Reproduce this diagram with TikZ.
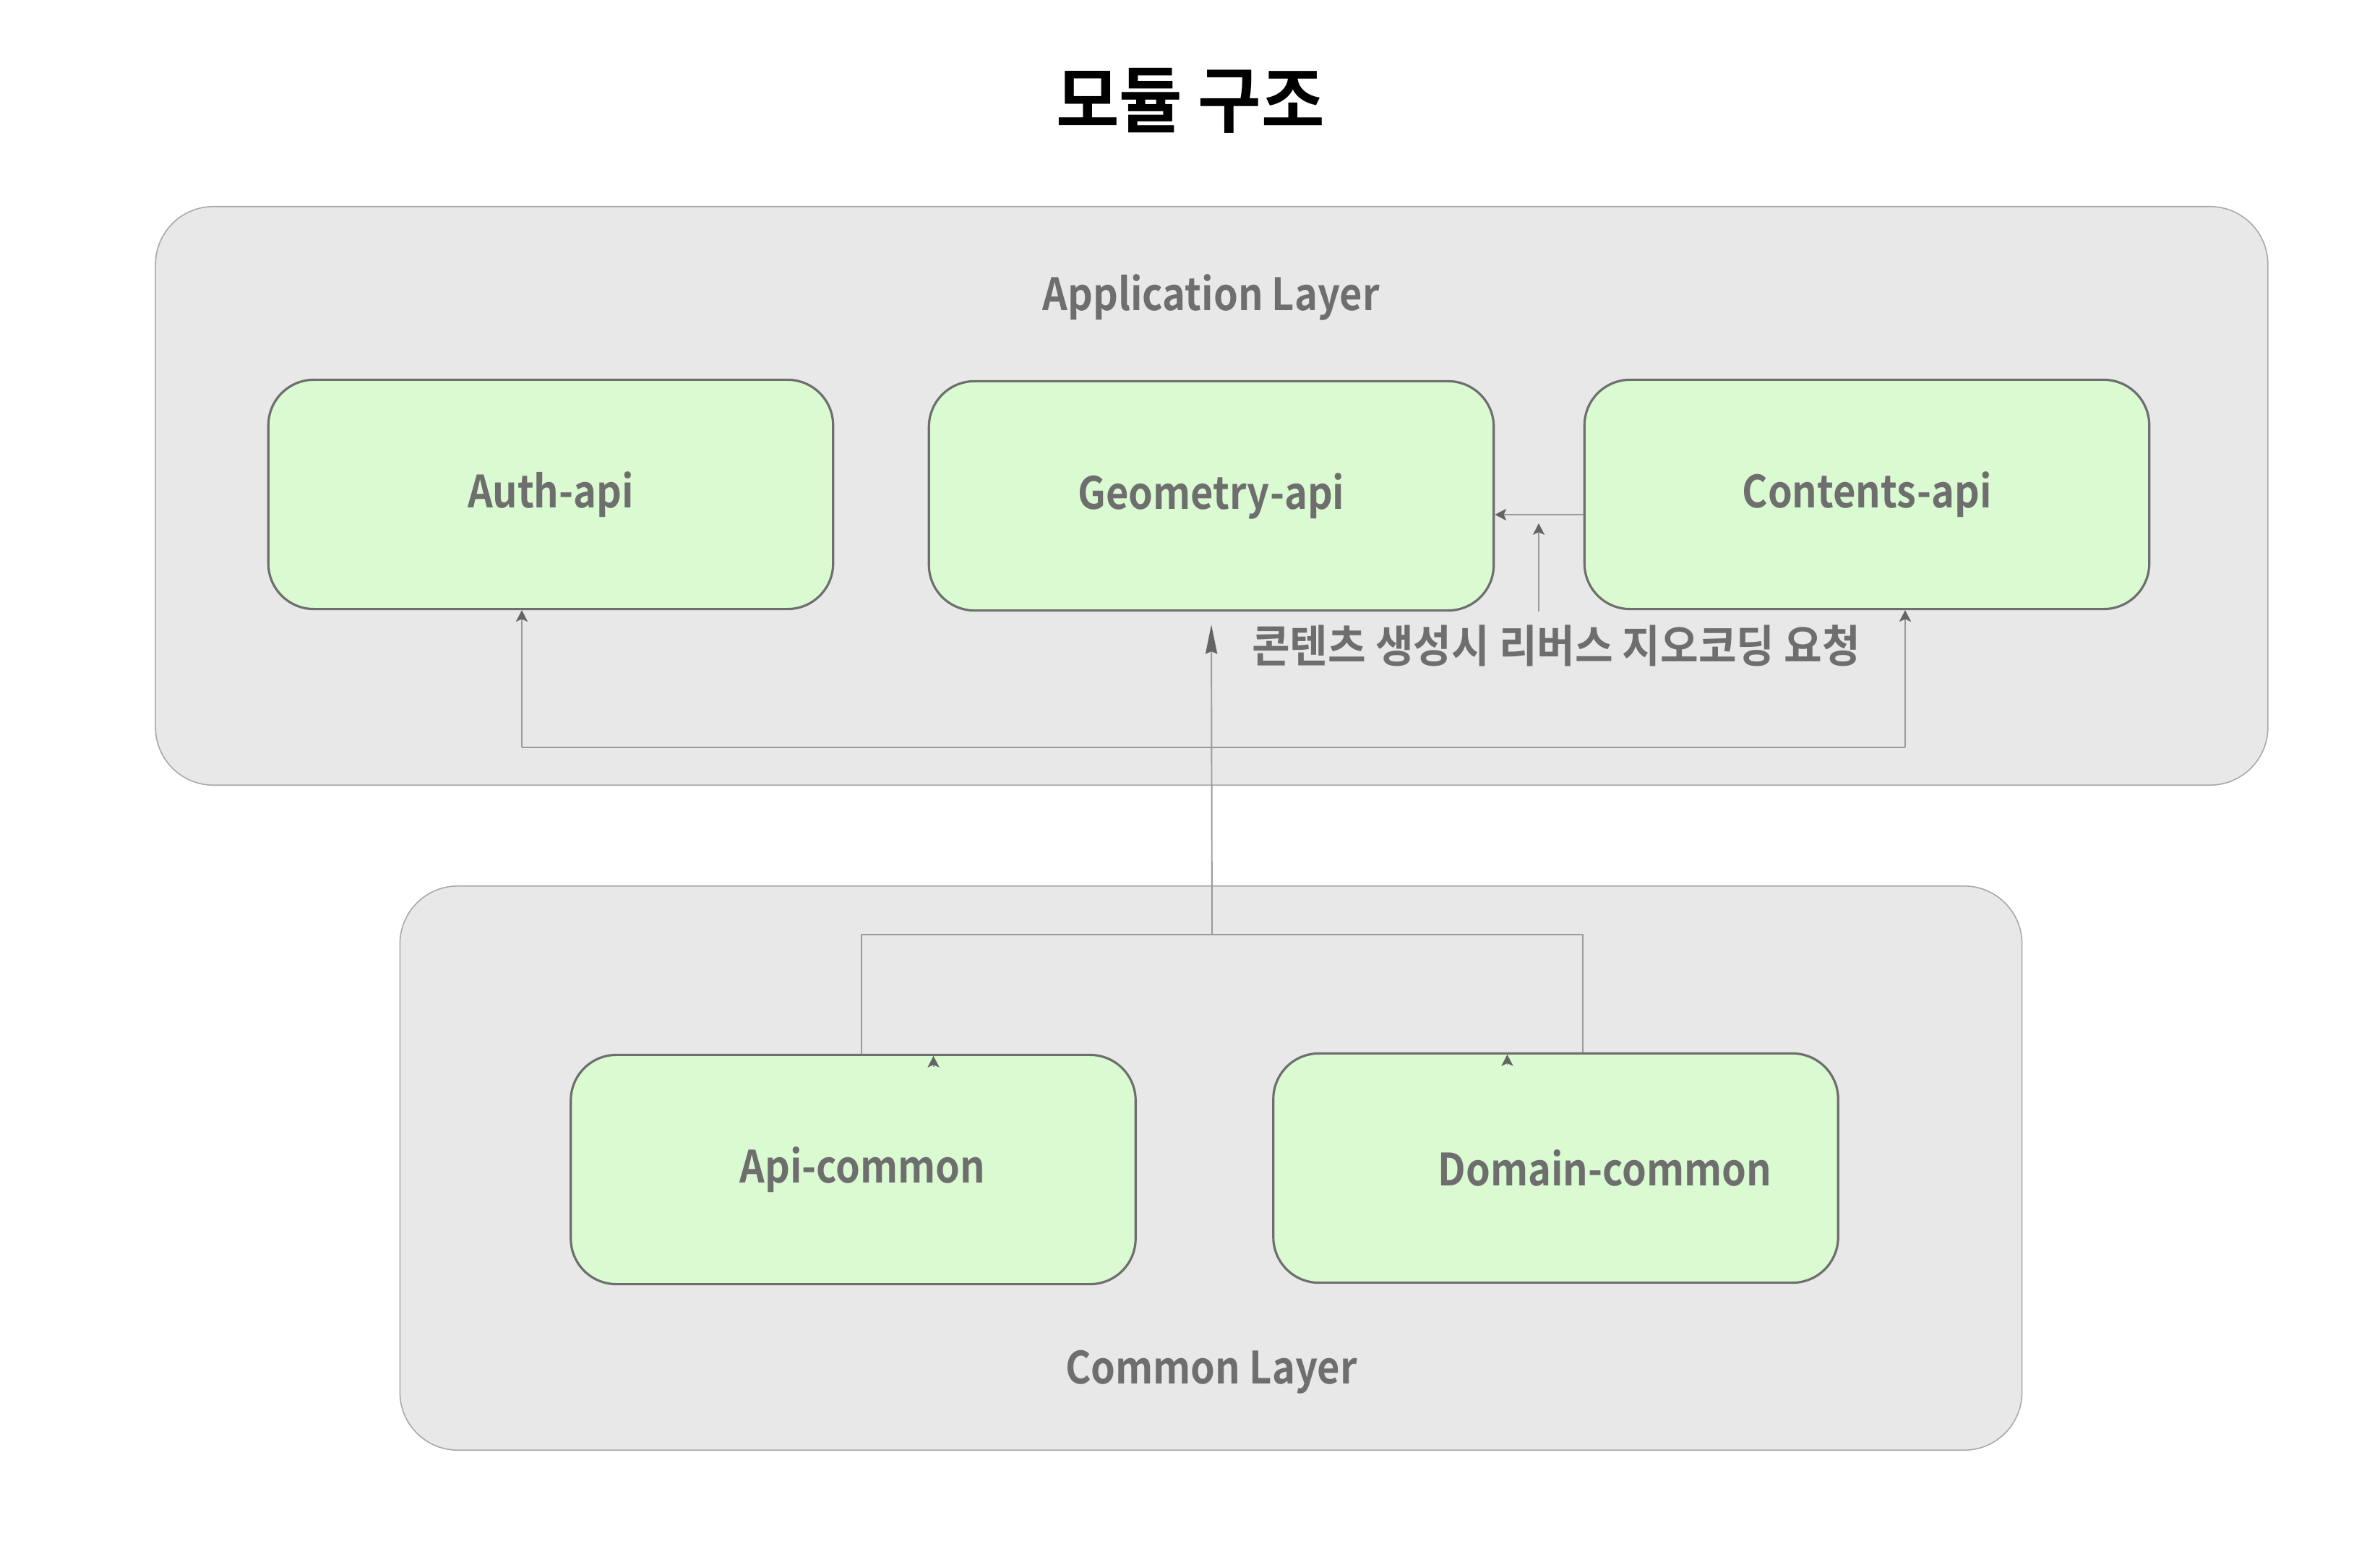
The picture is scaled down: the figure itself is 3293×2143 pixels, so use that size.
\documentclass[tikz,border=0pt]{standalone}
\usepackage{fontspec}
\setmainfont{Noto Sans CJK KR}[BoldFont={Noto Sans CJK KR Bold}]
\newfontfamily\narrowfont{Noto Sans CJK KR Bold}[FakeStretch=0.88]
\newfontfamily\hangulfont{Noto Sans CJK KR Bold}[FakeStretch=0.93]
\newfontfamily\titlefont{Noto Sans CJK KR Bold}[FakeStretch=0.95]
\usepackage{tikz}
\usetikzlibrary{arrows.meta}
\definecolor{layerfill}{HTML}{E8E8E8}
\definecolor{layerline}{HTML}{A8A8A8}
\definecolor{modfill}{HTML}{DAFAD2}
\definecolor{modline}{HTML}{6E6E6E}
\definecolor{labelgray}{HTML}{6E6E6E}
\definecolor{wire}{HTML}{9A9A9A}
\definecolor{tipgray}{HTML}{646464}

\begin{document}
\begin{tikzpicture}[x=0.01cm,y=-0.01cm,
  layer/.style={draw=layerline,fill=layerfill,line width=0.45pt,rounded corners=0.8cm},
  module/.style={draw=modline,fill=modfill,line width=0.9pt,rounded corners=0.63cm,
    minimum width=7.81cm,minimum height=3.17cm,text=labelgray,font=\fontsize{17.5}{20}\narrowfont},
  caption/.style={text=labelgray,font=\fontsize{17.5}{20}\narrowfont},
  wire/.style={draw=wire,line width=0.55pt},
  shorttip/.style={-{Stealth[length=4.5pt,width=4.6pt,inset=1pt,color=tipgray]}},
  longtip/.style={-{Stealth[length=11.5pt,width=4.6pt,inset=1pt,color=tipgray]}}]
  \useasboundingbox (0,0) rectangle (3293,2143);
  \node[font=\fontsize{28.5}{32}\titlefont] (title) at (1647,139) {모듈 구조};

  % layers
  \node[layer,minimum width=29.21cm,minimum height=8cm] (applayer) at (1676.5,686) {};
  \node[caption] (applabel) at (1676,411) {Application Layer};
  \node[layer,minimum width=22.43cm,minimum height=7.8cm] (commonlayer) at (1675.5,1616) {};
  \node[caption] (commonlabel) at (1676,1898) {Common Layer};

  % modules
  \node[module] (auth) at (762,684) {Auth-api};
  \node[module] (geometry) at (1676,686) {Geometry-api};
  \node[module] (contents) at (2583,684) {Contents-api};
  \node[module] (apicommon) at (1180.5,1618) {\hspace*{0.26cm}Api-common};
  \node[module] (domaincommon) at (2152.5,1616) {\hspace*{1.36cm}Domain-common};

  % contents -> geometry
  \draw[wire,shorttip] ([yshift=-0.28cm]contents.west) -- ([yshift=-0.26cm]geometry.east);
  \coordinate (callout) at (2129,846);
  \draw[wire,shorttip] (callout) -- ++(0,-122);
  \node[caption,font=\fontsize{17.5}{20}\hangulfont] (calloutlabel) at (2153,893) {콘텐츠 생성시 리버스 지오코딩 요청};

  % common -> application
  \coordinate (joinL) at (1192,1293);
  \coordinate (joinR) at (2190,1293);
  \coordinate (join) at (1677,1293);
  \draw[wire] (joinL |- apicommon.north) -- (joinL) -- (joinR) -- (joinR |- domaincommon.north);
  \draw[wire,longtip] (join) -- ([yshift=-0.18cm]geometry.south);
  \draw[wire,shorttip] ([xshift=1.11cm,yshift=-0.18cm]apicommon.north) -- ([xshift=1.11cm,yshift=-0.03cm]apicommon.north);
  \draw[wire,shorttip] ([xshift=-0.67cm,yshift=-0.18cm]domaincommon.north) -- ([xshift=-0.67cm,yshift=-0.03cm]domaincommon.north);

  \coordinate (busL) at (722,1034);
  \coordinate (busR) at (2636,1034);
  \draw[wire] (busL) -- (busR);
  \draw[wire,shorttip] (busL) -- (busL |- auth.south);
  \draw[wire,shorttip] (busR) -- (busR |- contents.south);
\end{tikzpicture}
\end{document}
